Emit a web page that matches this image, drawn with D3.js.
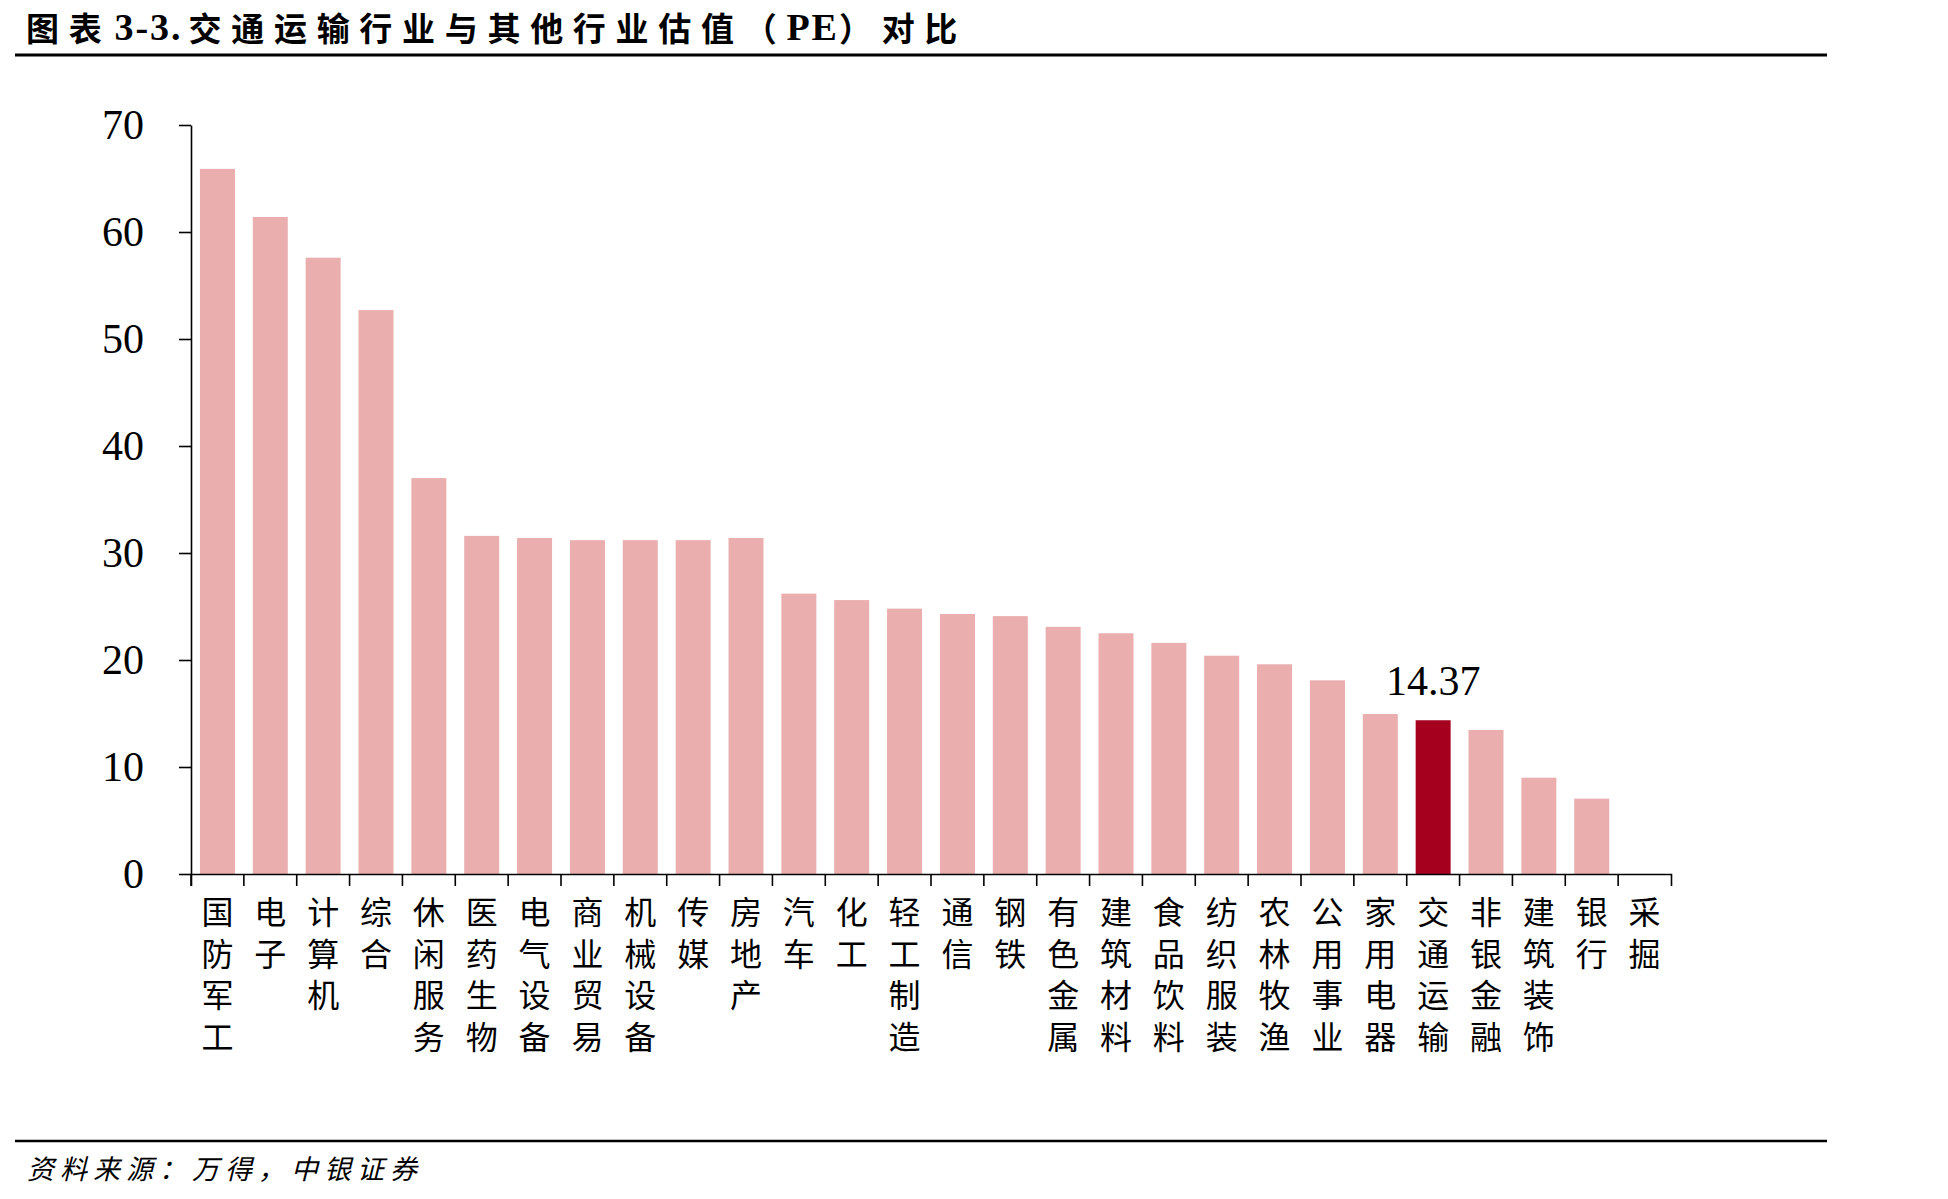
<!DOCTYPE html>
<html>
<head>
<meta charset="utf-8">
<script src="https://cdn.jsdelivr.net/npm/d3@7/dist/d3.min.js"></script>
<style>
  html, body { margin: 0; padding: 0; background: #fff; }
  svg { display: block; }
</style>
</head>
<body>
<svg id="chart" width="1948" height="1199"></svg>
<script>
// ---- data ----
const categories = ["国防军工","电子","计算机","综合","休闲服务","医药生物","电气设备","商业贸易","机械设备","传媒","房地产","汽车","化工","轻工制造","通信","钢铁","有色金属","建筑材料","食品饮料","纺织服装","农林牧渔","公用事业","家用电器","交通运输","非银金融","建筑装饰","银行","采掘"];
const peValues = [65.9, 61.4, 57.6, 52.7, 37.0, 31.6, 31.4, 31.2, 31.2, 31.2, 31.4, 26.2, 25.6, 24.8, 24.3, 24.1, 23.1, 22.5, 21.6, 20.4, 19.6, 18.1, 14.95, 14.37, 13.46, 9.0, 7.04, null];
const highlightCategory = "交通运输";
const highlightLabel = "14.37";
const yTicks = [0, 10, 20, 30, 40, 50, 60, 70];
// title split into CJK / Latin runs
const titleRuns = [
  { t: "图表", latin: false },
  { t: "3-3.", latin: true },
  { t: "交通运输行业与其他行业估值（", latin: false },
  { t: "PE", latin: true },
  { t: "）对比", latin: false }
];
const sourceText = "资料来源：万得，中银证券";

const svg = d3.select("#chart");
const cjk = "'Noto Sans CJK SC', 'Noto Sans', sans-serif";
const serif = "'Liberation Serif', 'DejaVu Serif', serif";

// ---- scales ----
const x = d3.scaleBand().domain(categories).range([191, 1671]).paddingInner(0.338).paddingOuter(0.169);
const y = d3.scaleLinear().domain([0, 70]).range([874, 125]);

// ---- title & rules ----
const title = svg.append("text")
  .attr("x", 26).attr("y", 27)
  .attr("dominant-baseline", "central")
  .style("font-weight", "bold");
titleRuns.forEach((r, i) => {
  const ts = title.append("tspan").text(r.t);
  if (r.latin) {
    ts.style("font-family", serif).style("font-size", "38px").style("letter-spacing", "2px")
      .attr("dx", i === 1 ? 3 : 0);
  } else {
    ts.style("font-family", cjk).style("font-size", "33px").style("letter-spacing", "9.7px")
      .attr("dx", i === 2 ? 6 : 0);
  }
});
svg.append("line").attr("x1", 15).attr("x2", 1827).attr("y1", 55).attr("y2", 55)
  .attr("stroke", "#000").attr("stroke-width", 3);
svg.append("line").attr("x1", 15).attr("x2", 1827).attr("y1", 1141).attr("y2", 1141)
  .attr("stroke", "#000").attr("stroke-width", 2.5);
svg.append("text")
  .attr("x", 27).attr("y", 1167)
  .attr("dominant-baseline", "central")
  .style("font-family", cjk).style("font-style", "italic")
  .style("font-size", "27px").style("letter-spacing", "6px")
  .text(sourceText);

// ---- bars ----
const data = categories.map((c, i) => ({ c, v: peValues[i] })).filter(d => d.v != null);
svg.append("g").selectAll("rect").data(data).join("rect")
  .attr("x", d => x(d.c))
  .attr("width", x.bandwidth())
  .attr("y", d => y(d.v))
  .attr("height", d => y(0) - y(d.v))
  .attr("fill", d => d.c === highlightCategory ? "#A6001F" : "#E9AEAD");

// value label
svg.append("text")
  .attr("x", x(highlightCategory) + x.bandwidth() / 2)
  .attr("y", y(peValues[categories.indexOf(highlightCategory)]) - 25)
  .attr("text-anchor", "middle")
  .style("font-family", serif).style("font-size", "42px")
  .text(highlightLabel);

// ---- y axis ----
const yAxis = svg.append("g").attr("transform", "translate(191,0)")
  .call(d3.axisLeft(y).tickValues(yTicks).tickSize(12).tickSizeOuter(0).tickPadding(35));
yAxis.selectAll("path, line").attr("stroke", "#000").attr("stroke-width", 1.6);
yAxis.selectAll("text").style("font-family", serif).style("font-size", "42px").attr("fill", "#000");

// ---- x axis ----
const xAxis = svg.append("g").attr("transform", `translate(0,${y(0)})`)
  .call(d3.axisBottom(x).tickValues([]).tickSizeOuter(12));
xAxis.selectAll("path").attr("stroke", "#000").attr("stroke-width", 1.6);
const gap = (x.step() - x.bandwidth()) / 2;
const bounds = categories.map(c => x(c) - gap);
svg.append("g").selectAll("line").data(bounds).join("line")
  .attr("x1", d => d).attr("x2", d => d)
  .attr("y1", y(0)).attr("y2", y(0) + 12)
  .attr("stroke", "#000").attr("stroke-width", 1.6);

// vertical category labels
const lab = svg.append("g").selectAll("text").data(categories).join("text")
  .attr("text-anchor", "middle")
  .style("font-family", cjk).style("font-size", "32px").attr("fill", "#000");
lab.each(function (c) {
  const t = d3.select(this);
  const cx = x(c) + x.bandwidth() / 2;
  Array.from(c).forEach((ch, k) => {
    t.append("tspan").attr("x", cx).attr("y", 910 + k * 41.7)
      .attr("dominant-baseline", "central").text(ch);
  });
});
</script>
</body>
</html>
